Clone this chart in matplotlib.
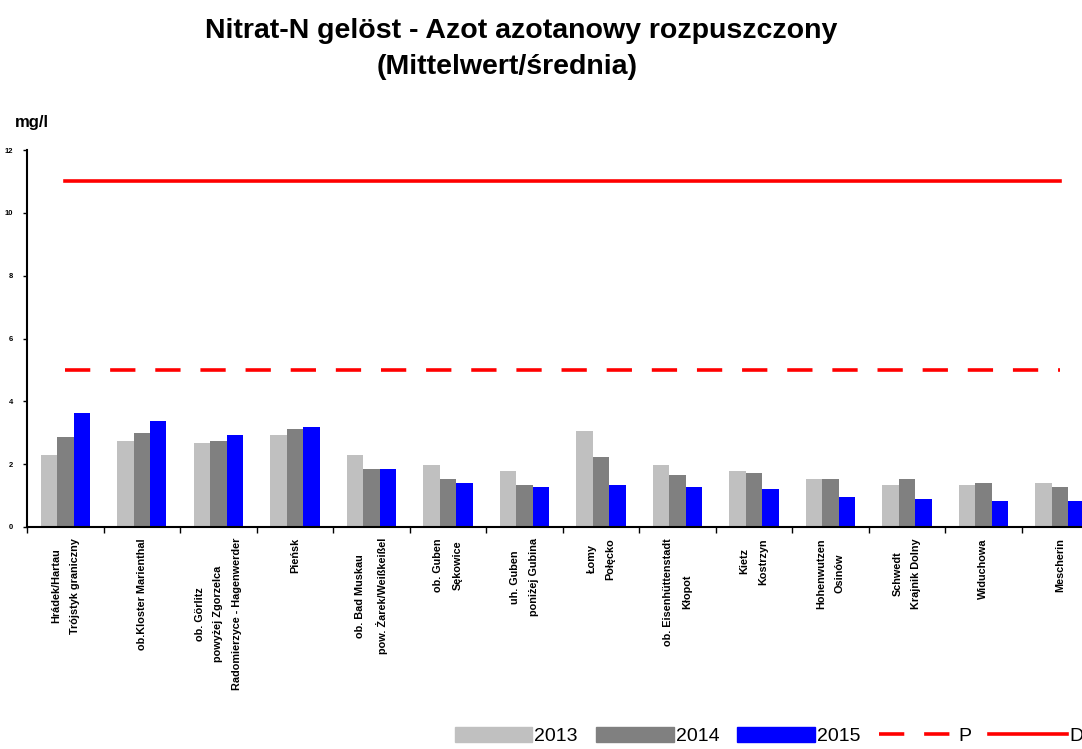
import numpy as np
import matplotlib
matplotlib.use("Agg")
import matplotlib.pyplot as plt
from matplotlib.lines import Line2D
from matplotlib.patches import Patch

plt.rcParams['font.family'] = ['Liberation Sans', 'DejaVu Sans']

stations = ['Hrádek/Hartau\nTrójstyk graniczny',
            'ob.Kloster Marienthal',
            'ob. Görlitz\npowyżej Zgorzelca\nRadomierzyce - Hagenwerder',
            'Pieńsk',
            'ob. Bad Muskau\npow. Żarek/Weißkeißel',
            'ob. Guben\nSękowice',
            'uh. Guben\nponiżej Gubina',
            'Łomy\nPołęcko',
            'ob. Eisenhüttenstadt\nKłopot',
            'Kietz\nKostrzyn',
            'Hohenwutzen\nOsinów',
            'Schwedt\nKrajnik Dolny',
            'Widuchowa',
            'Mescherin']

v2013 = [2.29, 2.73, 2.67, 2.92, 2.29, 1.97, 1.78, 3.05, 1.97, 1.78, 1.52, 1.33, 1.33, 1.40]
v2014 = [2.86, 2.98, 2.73, 3.11, 1.84, 1.52, 1.33, 2.22, 1.65, 1.71, 1.52, 1.52, 1.40, 1.27]
v2015 = [3.62, 3.37, 2.92, 3.17, 1.84, 1.40, 1.27, 1.33, 1.27, 1.21, 0.95, 0.89, 0.83, 0.83]
limit_p = [5.0] * len(stations)
limit_d = [11.0] * len(stations)

fig = plt.figure(figsize=(10.82, 7.49), dpi=100)
ax = fig.add_axes([0.025, 0.2964, 0.99, 0.5033])

x = np.arange(len(stations))
w = 0.215
ax.bar(x - w, v2013, w, color='#C0C0C0', label='2013')
ax.bar(x, v2014, w, color='#808080', label='2014')
ax.bar(x + w, v2015, w, color='#0000FF', label='2015')
ax.plot(x, limit_p, color='red', lw=2.6, dashes=(7, 5.5), label='P')
ax.plot(x, limit_d, color='red', lw=2.6, label='D')

ax.set_xlim(-0.5, len(stations) - 0.5)
ax.set_ylim(0, 12)
ax.set_yticks(range(0, 13, 2))
ax.tick_params(axis='y', labelsize=5.5, length=3, width=1, pad=7)
for t in ax.get_yticklabels():
    t.set_fontweight('bold')

ax.set_xticks(x)
ax.set_xticklabels(stations, rotation=90, fontsize=7.8, fontweight='bold',
                   va='top', ha='center', multialignment='center', linespacing=2.1)
ax.set_xticks(np.arange(-0.5, len(stations), 1), minor=True)
ax.tick_params(axis='x', which='major', length=0, pad=8)
ax.tick_params(axis='x', which='minor', length=4, width=1)

for s in ['top', 'right']:
    ax.spines[s].set_visible(False)
ax.spines['left'].set_linewidth(1.5)
ax.spines['bottom'].set_linewidth(1.5)

fig.text(0.482, 0.958, 'Nitrat-N gelöst - Azot azotanowy rozpuszczony',
         ha='center', va='center', fontsize=20.5, fontweight='bold')
fig.text(0.469, 0.911, '(Mittelwert/średnia)',
         ha='center', va='center', fontsize=20.5, fontweight='bold')
fig.text(0.014, 0.837, 'mg/l', ha='left', va='center', fontsize=12, fontweight='bold')

handles = [Patch(color='#C0C0C0'), Patch(color='#808080'), Patch(color='#0000FF'),
           Line2D([], [], color='red', lw=2.6, dashes=(7, 5.5)),
           Line2D([], [], color='red', lw=2.6)]
fig.legend(handles, ['2013', '2014', '2015', 'P', 'D'], ncol=5, frameon=False,
           loc='lower left', bbox_to_anchor=(0.404, -0.018), fontsize=14,
           handlelength=4.0, handletextpad=0.1, columnspacing=0.93, handleheight=0.8)

fig.savefig('out.png', dpi=100)
